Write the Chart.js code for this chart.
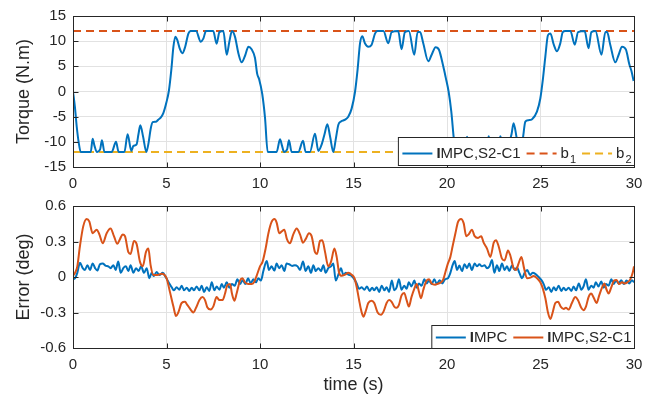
<!DOCTYPE html>
<html>
<head>
<meta charset="utf-8">
<script src="https://cdn.jsdelivr.net/npm/chart.js@4.4.0/dist/chart.umd.min.js"></script>
<style>
  html, body { margin: 0; padding: 0; background: #fff; }
  #wrap { position: relative; width: 658px; height: 401px; }
  canvas { position: absolute; left: 0; }
  #top { top: 0; }
  #bottom { top: 190px; }
</style>
</head>
<body>
<div id="wrap">
  <canvas id="top" width="658" height="190"></canvas>
  <canvas id="bottom" width="658" height="211"></canvas>
</div>
<script>
// ticks
const timeTicks = [0, 5, 10, 15, 20, 25, 30];
const torqueTicks = [-15, -10, -5, 0, 5, 10, 15];
const errorTicks = [-0.6, -0.3, 0, 0.3, 0.6];

// bounds
const b1 = 12;
const b2 = -12;

// torque, IMPC,S2-C1
const tTorque = [0, 0.1, 0.2, 0.3, 0.41, 0.95, 1.05, 1.15, 1.27, 1.45, 1.55, 1.68, 2.07, 2.3, 2.44, 2.75, 2.92, 3.12, 3.23, 3.4, 3.5, 3.6, 3.75, 3.92, 4.05, 4.15, 4.26, 4.44, 4.56, 4.69, 4.83, 5.0, 5.13, 5.26, 5.37, 5.47, 5.58, 5.72, 5.85, 6.0, 6.17, 6.3, 6.58, 6.83, 6.97, 7.11, 7.5, 7.68, 7.83, 8.04, 8.22, 8.36, 8.5, 8.66, 8.85, 9.02, 9.2, 9.38, 9.55, 9.73, 9.85, 9.95, 10.12, 10.27, 10.41,
  10.89, 11.07, 11.18, 11.28, 11.45, 11.55, 11.69, 12.05, 12.3, 12.44, 12.67, 12.94, 13.12, 13.3, 13.45, 13.6, 13.75, 13.92, 14.05, 14.19, 14.33, 14.55, 14.72, 14.9, 15.08, 15.22, 15.35, 15.47, 15.61, 15.79, 15.97, 16.15, 16.28, 16.6, 16.86, 17.04, 17.39, 17.57, 17.75, 17.96, 18.25, 18.43, 18.56, 18.73, 19.0, 19.18, 19.39, 19.57, 19.8, 19.93, 20.09, 20.23, 20.36, 20.45,
  20.95, 21.07, 21.2, 21.3, 21.5, 21.6, 21.72, 22.05, 22.23, 22.42, 22.7, 22.85, 23.1, 23.3, 23.45, 23.56, 23.73, 23.9, 24.05, 24.19, 24.36, 24.55, 24.81, 24.99, 25.13, 25.26, 25.4, 25.53, 25.71, 25.88, 26.06, 26.19, 26.33, 26.6, 26.83, 27.01, 27.36, 27.57, 27.72, 27.94, 28.26, 28.47, 28.56, 28.73, 29.0, 29.18, 29.36, 29.57, 29.75, 29.86, 29.98];
const torque = [0, -3, -7, -10, -12, -12, -9.4, -10.8, -12, -11.5, -9.7, -12, -12, -10, -12, -12, -8.5, -11.8, -10.8, -10.5, -8.5, -6.7, -9, -12, -10, -7.5, -6.1, -6, -5.6, -5.2, -4.3, -2.1, 0.2, 4.4, 8.9, 10.9, 10.2, 8.4, 7.6, 8.9, 11.5, 12, 12, 9.9, 10.5, 12, 12, 9.5, 11.8, 12, 7.3, 9.9, 12, 10.9, 7.5, 5.8, 7.1, 8.9, 8.4, 6.7, 3.5, 2.5, -0.5, -5.3, -12,
  -12, -9.5, -10.8, -12, -11.5, -9.7, -12, -12, -9.8, -12, -12, -8.4, -11.8, -10.5, -8.5, -6.5, -9, -12, -9.5, -6.6, -5.95, -5.6, -5, -3.4, -0.1, 4.4, 9.6, 11, 9.6, 8.9, 9.3, 11.5, 12, 12, 9.6, 11.8, 12, 8.4, 11.8, 12, 7.3, 11.8, 11.8, 9.6, 6.0, 7.3, 8.8, 8.3, 5.0, 2.8, -0.1, -4, -9.2, -12,
  -12, -9, -11, -12, -11.5, -9.8, -12, -12, -8.9, -12, -12, -8.9, -12, -10.5, -8.5, -6.3, -9.3, -12, -9.5, -6, -5.7, -5.5, -4, -1.4, 2.5, 7, 11.2, 11.5, 9.3, 8, 9.6, 11.8, 12, 12, 9.3, 11.8, 12, 8.6, 11.8, 12, 7.3, 11.8, 11.8, 9.3, 5.8, 7.3, 8.9, 8.3, 5.4, 4.1, 2.1];

// error, IMPC
const tErrA = [0, 0.11, 0.23, 0.37, 0.52, 0.64, 0.77, 0.91, 1.05, 1.18, 1.3, 1.44, 1.59, 1.73, 1.89, 2.01, 2.16, 2.28, 2.42, 2.55, 2.69, 2.83, 2.96, 3.08, 3.23, 3.37, 3.51, 3.64, 3.8, 3.94, 4.08, 4.21, 4.33, 4.47, 4.62, 4.8, 4.97, 5.15, 5.29, 5.4, 5.54, 5.69, 5.81, 5.94, 6.08, 6.22, 6.35, 6.47, 6.61, 6.76, 6.88, 7.01, 7.15, 7.29, 7.42, 7.56, 7.68, 7.83, 7.95, 8.07, 8.22, 8.36, 8.5, 8.65, 8.79, 8.93, 9.07, 9.22, 9.36, 9.5, 9.64, 9.79, 9.91,
  10.05, 10.18, 10.36, 10.48, 10.62, 10.77, 10.89, 11.02, 11.16, 11.3, 11.42, 11.56, 11.72, 11.87, 12.01, 12.14, 12.3, 12.44, 12.58, 12.73, 12.85, 12.98, 13.12, 13.26, 13.39, 13.51, 13.65, 13.8, 13.92, 14.05, 14.19, 14.33, 14.46, 14.58, 14.72, 14.9, 15.05, 15.17, 15.3, 15.44, 15.58, 15.72, 15.86, 16.0, 16.11, 16.24, 16.37, 16.51, 16.65, 16.77, 16.9, 17.05, 17.18, 17.3, 17.43, 17.57, 17.71, 17.84, 17.96, 18.1, 18.25, 18.38, 18.5, 18.64, 18.79, 18.91, 19.04, 19.18, 19.32, 19.46, 19.6, 19.75, 19.89,
  20.05, 20.18, 20.3, 20.41, 20.54, 20.66, 20.8, 20.94, 21.07, 21.19, 21.33, 21.48, 21.6, 21.73, 21.87, 22.01, 22.14, 22.27, 22.41, 22.53, 22.67, 22.8, 22.94, 23.08, 23.21, 23.33, 23.48, 23.62, 23.74, 23.87, 24.01, 24.15, 24.29, 24.44, 24.58, 24.72, 24.9, 25.05, 25.17, 25.3, 25.44, 25.58, 25.71, 25.83, 25.97, 26.11, 26.24, 26.36, 26.5, 26.65, 26.77, 26.9, 27.05, 27.18, 27.3, 27.43, 27.57, 27.71, 27.84, 27.96, 28.1, 28.25, 28.38, 28.5, 28.64, 28.79, 28.91, 29.04, 29.18, 29.32, 29.46, 29.6, 29.75, 29.89, 30.0];
const errIMPC = [-0.02, -0.01, 0.035, 0.12, 0.075, 0.06, 0.1, 0.06, 0.115, 0.075, 0.054, 0.108, 0.115, 0.097, 0.09, 0.075, 0.1, 0.06, 0.13, 0.035, 0.075, 0.09, 0.05, 0.1, 0.035, 0.075, 0.05, 0.09, 0.035, 0.075, -0.01, 0.035, 0.008, 0.043, 0.016, 0.035, -0.005, -0.054, -0.09, -0.113, -0.086, -0.108, -0.073, -0.113, -0.09, -0.118, -0.09, -0.113, -0.08, -0.113, -0.073, -0.126, -0.086, -0.118, -0.045, -0.113, -0.08, -0.108, -0.06, -0.09, -0.045, -0.09, -0.06, -0.073, -0.02, -0.06, -0.027, -0.06, -0.01, -0.054, -0.02, -0.045, -0.01,
  -0.03, 0.05, 0.135, 0.06, 0.09, 0.054, 0.115, 0.075, 0.1, 0.05, 0.115, 0.108, 0.094, 0.1, 0.09, 0.06, 0.13, 0.05, 0.09, 0.035, 0.1, 0.05, 0.075, 0.05, 0.1, 0.035, 0.075, 0.09, 0.115, -0.03, 0.02, 0.075, 0.016, 0.035, 0.02, 0.008, -0.02, -0.054, -0.1, -0.086, -0.108, -0.08, -0.118, -0.09, -0.113, -0.086, -0.126, -0.073, -0.113, -0.086, -0.126, -0.03, -0.113, -0.09, -0.02, -0.108, -0.073, -0.1, -0.045, -0.08, -0.03, -0.09, -0.054, -0.073, -0.02, -0.054, -0.03, -0.06, -0.02, -0.06, -0.027, -0.054, -0.02,
  -0.01, 0.035, 0.1, 0.135, 0.06, 0.097, 0.05, 0.108, 0.075, 0.115, 0.06, 0.115, 0.09, 0.108, 0.09, 0.1, 0.075, 0.09, 0.143, 0.035, 0.1, 0.05, 0.115, 0.06, 0.09, 0.05, 0.1, 0.06, 0.08, 0.035, -0.01, 0.035, 0.06, 0.016, 0.035, 0.027, 0, -0.027, -0.06, -0.108, -0.086, -0.126, -0.086, -0.113, -0.073, -0.118, -0.09, -0.113, -0.09, -0.118, -0.08, -0.113, -0.054, -0.108, -0.08, -0.02, -0.108, -0.073, -0.09, -0.045, -0.08, -0.038, -0.09, -0.06, -0.073, -0.02, -0.06, -0.03, -0.054, -0.027, -0.06, -0.03, -0.054, -0.027, -0.045];

// error, IMPC,S2-C1
const tErrB = [0, 0.11, 0.23, 0.37, 0.55, 0.73, 0.87, 1.05, 1.27, 1.41, 1.59, 1.8, 2.01, 2.19, 2.37, 2.51, 2.66, 2.78, 2.96, 3.08, 3.26, 3.4, 3.58, 3.73, 3.9, 4.03, 4.15, 4.3, 4.51, 4.74, 5.0, 5.19, 5.37, 5.51, 5.63, 5.81, 5.99, 6.11, 6.29, 6.43, 6.58, 6.76, 6.93, 7.06, 7.18, 7.36, 7.5, 7.68, 7.83, 8.0, 8.13, 8.25, 8.4, 8.5, 8.63, 8.75, 8.93, 9.06, 9.2, 9.38, 9.55, 9.68, 9.82,
  10.0, 10.14, 10.3, 10.45, 10.62, 10.77, 10.89, 11.03, 11.16, 11.3, 11.44, 11.6, 11.78, 11.96, 12.14, 12.3, 12.44, 12.62, 12.76, 12.94, 13.05, 13.21, 13.33, 13.48, 13.65, 13.8, 13.98, 14.1, 14.23, 14.37, 14.55, 14.72, 14.9, 15.05, 15.17, 15.3, 15.4, 15.53, 15.65, 15.79, 15.97, 16.11, 16.29, 16.47, 16.61, 16.77, 16.9, 17.04, 17.18, 17.3, 17.43, 17.57, 17.71, 17.84, 17.96, 18.1, 18.25, 18.38, 18.5, 18.61, 18.73, 18.91, 19.04, 19.18, 19.36, 19.54, 19.68, 19.8, 19.93,
  20.05, 20.18, 20.3, 20.45, 20.59, 20.75, 20.89, 21.03, 21.16, 21.33, 21.48, 21.66, 21.83, 21.96, 22.14, 22.32, 22.5, 22.62, 22.76, 22.94, 23.08, 23.26, 23.39, 23.56, 23.69, 23.83, 23.98, 24.12, 24.28, 24.46, 24.63, 24.81, 24.99, 25.13, 25.26, 25.4, 25.53, 25.65, 25.79, 25.94, 26.08, 26.24, 26.36, 26.5, 26.68, 26.86, 27.0, 27.18, 27.3, 27.43, 27.57, 27.71, 27.86, 28.0, 28.14, 28.29, 28.41, 28.54, 28.64, 28.79, 28.93, 29.07, 29.21, 29.36, 29.5, 29.64, 29.8, 29.93, 30.0];
const errS2C1 = [0.01, 0.035, 0.09, 0.26, 0.43, 0.49, 0.47, 0.37, 0.4, 0.36, 0.285, 0.37, 0.41, 0.345, 0.28, 0.32, 0.36, 0.345, 0.21, 0.195, 0.305, 0.28, 0.13, 0.09, 0.21, 0.24, 0.1, 0.016, 0.016, 0.027, -0.01, -0.13, -0.25, -0.33, -0.3, -0.22, -0.21, -0.235, -0.275, -0.3, -0.26, -0.195, -0.17, -0.195, -0.255, -0.275, -0.25, -0.17, -0.195, -0.195, -0.14, -0.07, -0.06, -0.14, -0.2, -0.14, -0.03, -0.01, -0.045, -0.06, -0.06, -0.045, 0.01,
  0.09, 0.13, 0.24, 0.37, 0.465, 0.49, 0.46, 0.37, 0.385, 0.4, 0.32, 0.285, 0.36, 0.41, 0.36, 0.29, 0.32, 0.37, 0.345, 0.21, 0.195, 0.305, 0.31, 0.21, 0.09, 0.13, 0.24, 0.17, 0.035, 0.01, 0.02, 0.035, 0.02, -0.01, -0.085, -0.195, -0.275, -0.335, -0.29, -0.22, -0.2, -0.22, -0.3, -0.32, -0.29, -0.22, -0.195, -0.21, -0.25, -0.26, -0.235, -0.155, -0.135, -0.195, -0.25, -0.17, -0.1, -0.06, -0.125, -0.18, -0.11, -0.03, -0.02, -0.055, -0.065, -0.055, -0.045, -0.02, 0.05,
  0.115, 0.17, 0.26, 0.37, 0.465, 0.49, 0.455, 0.345, 0.36, 0.4, 0.345, 0.33, 0.345, 0.29, 0.24, 0.17, 0.29, 0.31, 0.26, 0.155, 0.14, 0.225, 0.18, 0.075, 0.06, 0.115, 0.17, 0.075, -0.01, -0.005, 0.008, -0.01, -0.045, -0.1, -0.18, -0.3, -0.355, -0.3, -0.22, -0.21, -0.25, -0.27, -0.26, -0.275, -0.22, -0.17, -0.195, -0.26, -0.28, -0.25, -0.17, -0.14, -0.18, -0.22, -0.155, -0.09, -0.055, -0.11, -0.14, -0.085, -0.03, -0.025, -0.06, -0.045, -0.055, -0.045, -0.02, 0.035, 0.09];

const FONT = "'Liberation Sans', Arial, Helvetica, sans-serif";
const INK = '#262626';
const GRID = '#e2e2e2';
const BLUE = '#0072BD', ORANGE = '#D95319', YELLOW = '#EDB120';

const pts = (xs, ys) => xs.map((x, i) => ({ x: x, y: ys[i] }));
const fmt = v => String(Math.round(v * 10) / 10);

// box around the axes, inward ticks, boxed legend
const axesBox = {
  id: 'axesBox',
  afterDraw(chart, args, opt) {
    const ctx = chart.ctx, a = chart.chartArea, sx = chart.scales.x, sy = chart.scales.y;
    const L = Math.round(a.left) + 0.5, R = Math.round(a.right) + 0.5;
    const T = Math.round(a.top) + 0.5, B = Math.round(a.bottom) + 0.5;
    ctx.save();
    ctx.strokeStyle = INK;
    ctx.lineWidth = 1;
    ctx.beginPath();
    sx.ticks.forEach(t => {
      const p = Math.round(sx.getPixelForValue(t.value)) + 0.5;
      ctx.moveTo(p, B); ctx.lineTo(p, B - 5);
      ctx.moveTo(p, T); ctx.lineTo(p, T + 5);
    });
    sy.ticks.forEach(t => {
      const p = Math.round(sy.getPixelForValue(t.value)) + 0.5;
      ctx.moveTo(L, p); ctx.lineTo(L + 5, p);
      ctx.moveTo(R, p); ctx.lineTo(R - 5, p);
    });
    ctx.stroke();
    ctx.strokeRect(L, T, R - L, B - T);

    // legend
    const items = opt.items || [];
    const main = '15px ' + FONT, bold = 'bold 15px ' + FONT, small = '11px ' + FONT;
    const widthOf = it => {
      let w = 0;
      if (it.bold) { ctx.font = bold; w += ctx.measureText(it.bold).width; }
      ctx.font = main; w += ctx.measureText(it.text).width;
      if (it.sub) { ctx.font = small; w += ctx.measureText(it.sub).width + 1; }
      return w;
    };
    const ws = items.map(widthOf);
    const total = 4 + ws.reduce((s, w) => s + 34 + w, 0) + 6 * (items.length - 1) + 3;
    const bottom = B - opt.gapBottom;
    const left = R - total, top = bottom - opt.height;
    ctx.fillStyle = '#fff';
    ctx.fillRect(left, top, total, opt.height);
    ctx.strokeStyle = INK;
    ctx.strokeRect(left, top, total, opt.height);
    const cy = top + opt.height / 2 + opt.dy;
    let x = left + 4;
    items.forEach(it => {
      ctx.beginPath();
      ctx.setLineDash(it.dash || []);
      ctx.strokeStyle = it.color;
      ctx.lineWidth = 2;
      ctx.moveTo(x, cy); ctx.lineTo(x + 30, cy);
      ctx.stroke();
      ctx.setLineDash([]);
      x += 34;
      ctx.fillStyle = INK;
      ctx.textBaseline = 'middle';
      ctx.textAlign = 'left';
      if (it.bold) { ctx.font = bold; ctx.fillText(it.bold, x, cy); x += ctx.measureText(it.bold).width; }
      ctx.font = main; ctx.fillText(it.text, x, cy); x += ctx.measureText(it.text).width;
      if (it.sub) { ctx.font = small; ctx.fillText(it.sub, x + 1, cy + 6); x += ctx.measureText(it.sub).width + 1; }
      x += 6;
    });
    ctx.restore();
  }
};

function scalesFor(yMin, yMax, yTicks, yTitle, xTitle, xHeight) {
  return {
    x: {
      type: 'linear', min: 0, max: 30,
      afterBuildTicks: s => { s.ticks = timeTicks.map(v => ({ value: v })); },
      afterFit: s => { s.height = xHeight; },
      grid: { color: GRID, drawTicks: false },
      border: { display: false },
      ticks: { color: INK, font: { family: FONT, size: 15 }, padding: 8, maxRotation: 0, autoSkip: false, callback: fmt },
      title: xTitle
        ? { display: true, text: xTitle, color: INK, font: { family: FONT, size: 18 }, padding: { top: 0, bottom: 5 } }
        : { display: false }
    },
    y: {
      type: 'linear', min: yMin, max: yMax,
      afterBuildTicks: s => { s.ticks = yTicks.map(v => ({ value: v })); },
      afterFit: s => { s.width = 73; },
      grid: { color: GRID, drawTicks: false },
      border: { display: false },
      ticks: { color: INK, font: { family: FONT, size: 15 }, padding: 7, autoSkip: false, callback: fmt },
      title: { display: true, text: yTitle, color: INK, font: { family: FONT, size: 18 }, padding: { top: 13, bottom: 0 } }
    }
  };
}

new Chart(document.getElementById('top'), {
  type: 'line',
  data: {
    datasets: [
      { label: 'IMPC,S2-C1', data: pts(tTorque, torque), borderColor: BLUE, borderWidth: 2, pointRadius: 0, cubicInterpolationMode: 'monotone', order: 0 },
      { label: 'b1', data: [{ x: 0, y: b1 }, { x: 30, y: b1 }], borderColor: ORANGE, borderWidth: 2, borderDash: [8, 5], pointRadius: 0, order: 1 },
      { label: 'b2', data: [{ x: 0, y: b2 }, { x: 30, y: b2 }], borderColor: YELLOW, borderWidth: 2, borderDash: [8, 5], pointRadius: 0, order: 2 }
    ]
  },
  options: {
    responsive: false, animation: false, events: [],
    layout: { padding: { left: 0, right: 24, top: 13, bottom: 0 } },
    scales: scalesFor(-15, 15, torqueTicks, 'Torque (N.m)', null, 23),
    plugins: {
      legend: { display: false }, tooltip: { enabled: false },
      axesBox: {
        gapBottom: 2, height: 28, dy: 2,
        items: [
          { bold: 'I', text: 'MPC,S2-C1', color: BLUE },
          { text: 'b', sub: '1', color: ORANGE, dash: [8, 5] },
          { text: 'b', sub: '2', color: YELLOW, dash: [8, 5] }
        ]
      }
    }
  },
  plugins: [axesBox]
});

new Chart(document.getElementById('bottom'), {
  type: 'line',
  data: {
    datasets: [
      { label: 'IMPC', data: pts(tErrA, errIMPC), borderColor: BLUE, borderWidth: 2, pointRadius: 0, cubicInterpolationMode: 'monotone', order: 1 },
      { label: 'IMPC,S2-C1', data: pts(tErrB, errS2C1), borderColor: ORANGE, borderWidth: 2, pointRadius: 0, cubicInterpolationMode: 'monotone', order: 0 }
    ]
  },
  options: {
    responsive: false, animation: false, events: [],
    layout: { padding: { left: 0, right: 24, top: 10, bottom: 0 } },
    scales: scalesFor(-0.6, 0.6, errorTicks, 'Error (deg)', 'time (s)', 53),
    plugins: {
      legend: { display: false }, tooltip: { enabled: false },
      axesBox: {
        gapBottom: 0, height: 23, dy: 0.5,
        items: [
          { bold: 'I', text: 'MPC', color: BLUE },
          { bold: 'I', text: 'MPC,S2-C1', color: ORANGE }
        ]
      }
    }
  },
  plugins: [axesBox]
});
</script>
</body>
</html>
